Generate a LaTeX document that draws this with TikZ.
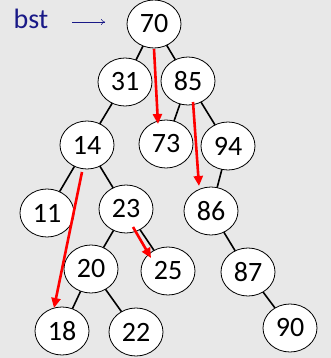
\documentclass[tikz,border=0pt]{standalone}
\usepackage{fontspec}
\setmainfont{Carlito}
\usetikzlibrary{arrows.meta,shapes.geometric}
\definecolor{bg}{RGB}{232,232,232}
\definecolor{navy}{RGB}{25,25,135}
\tikzset{
  bnode/.style={ellipse, draw=black, line width=0.8pt, fill=white, minimum width=54pt, minimum height=48pt, inner sep=0pt, font=\fontsize{28}{28}\selectfont},
  edge/.style={draw=black, line width=1.6pt},
  redarrow/.style={draw=red, line width=2.6pt, -{Triangle[length=10pt,width=9pt]}}
}
\begin{document}
\begin{tikzpicture}[x=1pt,y=-1pt]
\fill[bg] (0,0) rectangle (331,358);
\useasboundingbox (0,0) rectangle (331,358);
\coordinate (c70) at (154,24);
\coordinate (c31) at (125,82);
\coordinate (c85) at (188,81);
\coordinate (c14) at (87,145);
\coordinate (c73) at (166,144);
\coordinate (c94) at (228,146);
\coordinate (c11) at (47,213);
\coordinate (c23) at (126,209);
\coordinate (c86) at (211,211);
\coordinate (c20) at (91,269);
\coordinate (c25) at (168,271);
\coordinate (c87) at (248,272);
\coordinate (c18) at (62,331);
\coordinate (c22) at (136,332);
\coordinate (c90) at (290,328);
\foreach \a/\b in {70/31,70/85,31/14,85/73,85/94,14/11,14/23,94/86,23/20,23/25,86/87,20/18,20/22,87/90}
  \draw[edge] (c\a) -- (c\b);
\foreach \n in {70,31,85,14,73,94,11,23,86,20,25,87,18,22,90}
  \node[bnode] (n\n) at (c\n) {\n};
\node[text=navy, font=\fontsize{28}{28}\selectfont, anchor=center] (bst) at (31,19) {bst};
\coordinate (bststart) at (72,22);
\coordinate (bstend) at (105,22);
\draw[navy, line width=0.5pt, -{To[length=4pt,width=6pt]}] (bststart) -- (bstend);
% red arrows
\coordinate (r1s) at (154,49);
\coordinate (r1e) at (158,124);
\coordinate (r2s) at (193,102);
\coordinate (r2e) at (199,186);
\coordinate (r3s) at (82,172);
\coordinate (r3e) at (54,308);
\coordinate (r4s) at (133,227);
\coordinate (r4e) at (151,258);
\draw[redarrow] (r1s) -- (r1e);
\draw[redarrow] (r2s) -- (r2e);
\draw[redarrow] (r3s) -- (r3e);
\draw[redarrow] (r4s) -- (r4e);
\end{tikzpicture}
\end{document}
